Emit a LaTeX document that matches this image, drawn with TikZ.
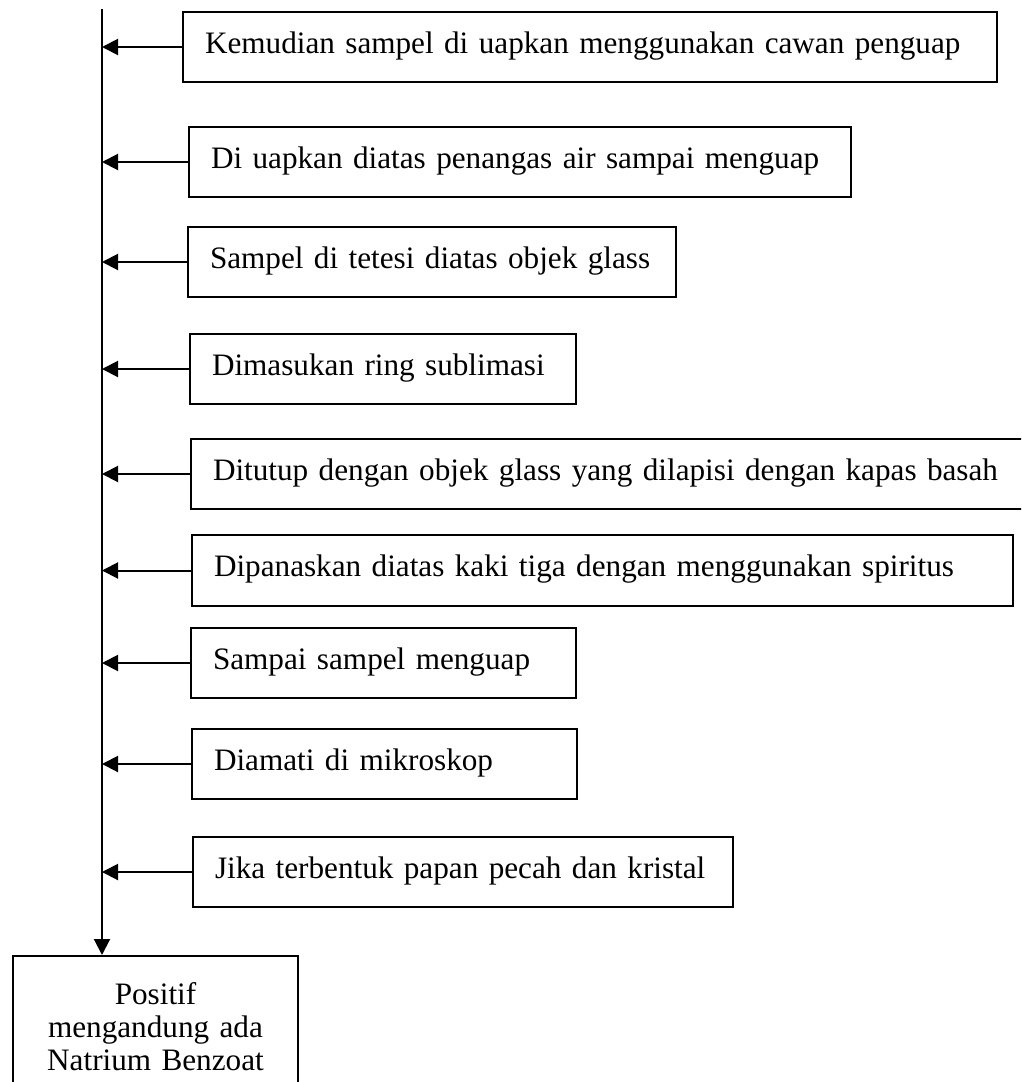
\documentclass[tikz,border=0pt]{standalone}
\usepackage{fontspec}
\setmainfont{Liberation Serif}
\usetikzlibrary{arrows.meta}
\begin{document}
\begin{tikzpicture}[x=1pt,y=-1pt,
  stepbox/.style={draw, line width=2pt, anchor=north west, inner xsep=22pt, inner ysep=0pt,
    text height=41pt, text depth=29pt, align=left,
    font=\fontsize{31.2}{33}\selectfont},
  resbox/.style={draw, line width=2pt, anchor=north west, inner xsep=0pt, inner ysep=0pt,
    text width=285pt, text height=48pt, text depth=160pt, align=center,
    font=\fontsize{31.2}{33}\selectfont},
  link/.style={line width=2pt, -{Triangle[length=16pt,width=16pt]}}]
\path[use as bounding box, clip] (0,0) rectangle (1021,1082);
\node[stepbox, text width=770pt] (s1) at (182,11) {\mbox{Kemudian sampel di uapkan menggunakan cawan penguap}};
\node[stepbox, text width=618pt] (s2) at (188,126) {\mbox{Di uapkan diatas penangas air sampai menguap}};
\node[stepbox, text width=444pt] (s3) at (187,226) {\mbox{Sampel di tetesi diatas objek glass}};
\node[stepbox, text width=342pt] (s4) at (189,333) {\mbox{Dimasukan ring sublimasi}};
\node[stepbox, text width=806pt] (s5) at (190,438) {\mbox{Ditutup dengan objek glass yang dilapisi dengan kapas basah}};
\node[stepbox, text width=777pt, text depth=30pt] (s6) at (191,534) {\mbox{Dipanaskan diatas kaki tiga dengan menggunakan spiritus}};
\node[stepbox, text width=341pt] (s7) at (190,627) {\mbox{Sampai sampel menguap}};
\node[stepbox, text width=341pt] (s8) at (191,728) {\mbox{Diamati di mikroskop}};
\node[stepbox, text width=496pt] (s9) at (192,836) {\mbox{Jika terbentuk papan pecah dan kristal}};
\node[resbox] (res) at (12,955) {Positif\\mengandung ada\\Natrium Benzoat};
\coordinate (top) at (102,9);
\draw[link] (top) -- (top |- res.north);
\foreach \s in {s1,s2,s3,s4,s5,s6,s7,s8,s9}{
  \draw[link] (\s.west) -- (\s.west -| top);
}
\end{tikzpicture}
\end{document}
